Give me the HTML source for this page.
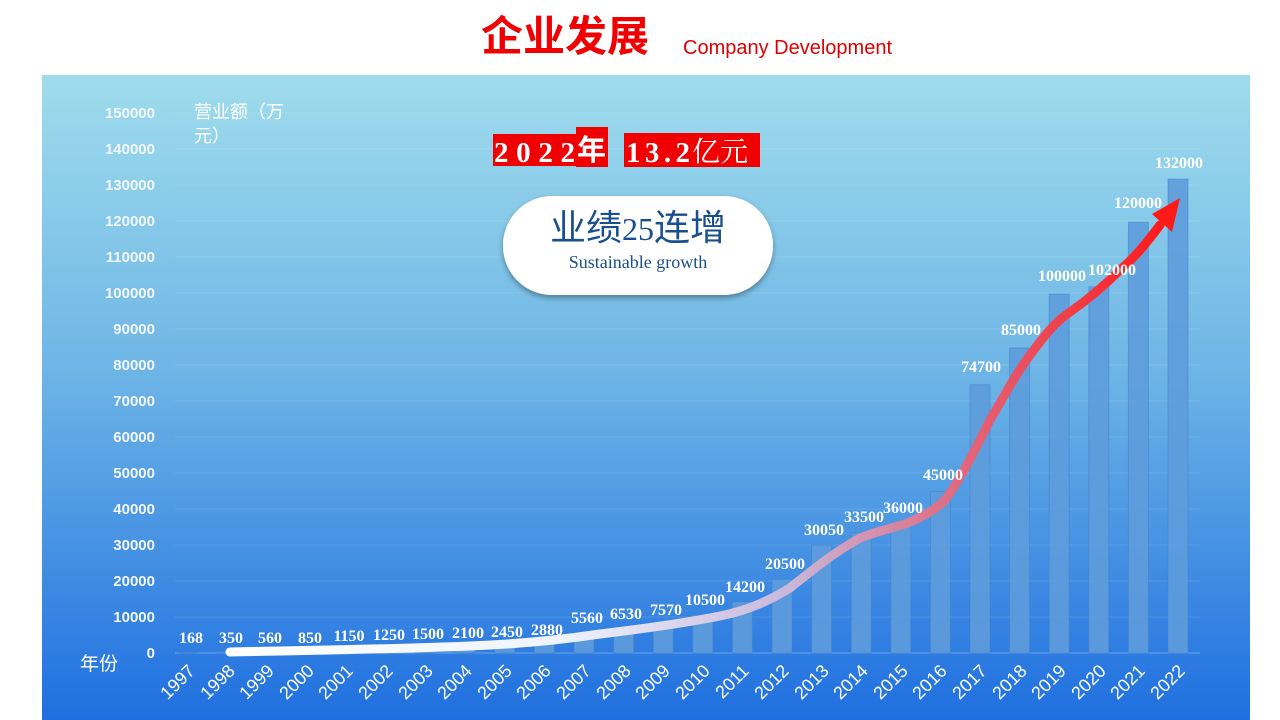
<!DOCTYPE html>
<html><head><meta charset="utf-8"><style>
html,body{margin:0;padding:0;background:#fff;}
body{width:1280px;height:720px;overflow:hidden;position:relative;font-family:"Liberation Sans","Noto Sans CJK SC",sans-serif;}
</style></head><body>
<svg width="1280" height="720" xmlns="http://www.w3.org/2000/svg" style="position:absolute;left:0;top:0">
<defs>
<linearGradient id="bg" x1="0" y1="0" x2="0" y2="1">
<stop offset="0" stop-color="#9fdcec"/><stop offset="0.45" stop-color="#6fb6e6"/><stop offset="1" stop-color="#1f6fe0"/>
</linearGradient>
<linearGradient id="ln" x1="0" y1="0" x2="1" y2="0">
<stop offset="0" stop-color="#ffffff"/><stop offset="0.35" stop-color="#f0f4ff"/><stop offset="0.6" stop-color="#c8b8da"/><stop offset="0.78" stop-color="#e06a80"/><stop offset="1" stop-color="#ff1a1a"/>
</linearGradient>
<filter id="sh" x="-10%" y="-10%" width="120%" height="140%"><feDropShadow dx="0" dy="3" stdDeviation="3" flood-color="#000" flood-opacity="0.35"/></filter>
</defs>
<text x="565" y="51" text-anchor="middle" font-size="42" font-weight="bold" fill="#f00000" font-family="Liberation Sans,Noto Sans CJK SC,sans-serif">企业发展</text>
<text x="683" y="54" font-size="20" fill="#e00000">Company Development</text>
<rect x="42" y="75" width="1208" height="645" fill="url(#bg)"/>
<g stroke="#ffffff" stroke-opacity="0.12" stroke-width="1">
<line x1="175" x2="1200" y1="617" y2="617"/><line x1="175" x2="1200" y1="581" y2="581"/><line x1="175" x2="1200" y1="545" y2="545"/><line x1="175" x2="1200" y1="509" y2="509"/><line x1="175" x2="1200" y1="473" y2="473"/><line x1="175" x2="1200" y1="437" y2="437"/><line x1="175" x2="1200" y1="401" y2="401"/><line x1="175" x2="1200" y1="365" y2="365"/><line x1="175" x2="1200" y1="329" y2="329"/><line x1="175" x2="1200" y1="293" y2="293"/><line x1="175" x2="1200" y1="257" y2="257"/><line x1="175" x2="1200" y1="221" y2="221"/><line x1="175" x2="1200" y1="185" y2="185"/><line x1="175" x2="1200" y1="149" y2="149"/><line x1="175" x2="1200" y1="113" y2="113"/>
</g>
<line x1="175" x2="1200" y1="653" y2="653" stroke="#ffffff" stroke-opacity="0.3"/>
<g font-size="15" font-weight="bold" fill="#f2f6ff" text-anchor="end">
<text x="155" y="658">0</text><text x="155" y="622">10000</text><text x="155" y="586">20000</text><text x="155" y="550">30000</text><text x="155" y="514">40000</text><text x="155" y="478">50000</text><text x="155" y="442">60000</text><text x="155" y="406">70000</text><text x="155" y="370">80000</text><text x="155" y="334">90000</text><text x="155" y="298">100000</text><text x="155" y="262">110000</text><text x="155" y="226">120000</text><text x="155" y="190">130000</text><text x="155" y="154">140000</text><text x="155" y="118">150000</text>
</g>
<text x="194" y="118" font-size="18" fill="#ffffff">营业额（万</text>
<text x="194" y="142" font-size="18" fill="#ffffff">元）</text>
<text x="80" y="670" font-size="19" fill="#ffffff">年份</text>
<g fill="#5e9cdc" fill-opacity="0.9" stroke="#3f7fc8" stroke-opacity="0.5">
<rect x="178" y="652.4" width="20" height="0.6"/><rect x="217.6" y="651.7" width="20" height="1.3"/><rect x="257.2" y="651" width="20" height="2"/><rect x="296.8" y="650" width="20" height="3"/><rect x="336.4" y="648.9" width="20" height="4.1"/><rect x="376" y="648.5" width="20" height="4.5"/><rect x="415.6" y="647.6" width="20" height="5.4"/><rect x="455.2" y="645.5" width="20" height="7.5"/><rect x="494.8" y="644.2" width="20" height="8.8"/><rect x="534.4" y="642.7" width="20" height="10.3"/><rect x="574" y="633" width="20" height="20"/><rect x="613.6" y="629.6" width="20" height="23.4"/><rect x="653.2" y="625.8" width="20" height="27.2"/><rect x="692.8" y="615.3" width="20" height="37.7"/><rect x="732.4" y="602" width="20" height="51"/><rect x="772" y="579.4" width="20" height="73.6"/><rect x="811.6" y="545.1" width="20" height="107.9"/><rect x="851.2" y="532.7" width="20" height="120.3"/><rect x="890.8" y="523.8" width="20" height="129.2"/><rect x="930.4" y="491.5" width="20" height="161.5"/><rect x="970" y="384.8" width="20" height="268.2"/><rect x="1009.6" y="347.9" width="20" height="305.1"/><rect x="1049.2" y="294" width="20" height="359"/><rect x="1088.8" y="286.8" width="20" height="366.2"/><rect x="1128.4" y="222.2" width="20" height="430.8"/><rect x="1168" y="179.1" width="20" height="473.9"/>
</g>
<path d="M230,652 C330,650 400,649 470,646 C520,644 560,640 600,634 C650,628 690,622 720,616 C750,610 770,600 790,588 C810,572 830,555 860,538 C880,530 895,528 910,522 C925,515 935,510 945,500 C960,480 975,450 990,420 C1005,395 1015,375 1030,355 C1045,335 1055,322 1070,312 C1090,298 1105,285 1120,270 C1135,257 1145,245 1160,225" fill="none" stroke="url(#ln)" stroke-width="9" stroke-linecap="round" stroke-linejoin="round"/>
<polygon points="1180,198 1152,214 1172,232" fill="#ff1a1a"/>
<g font-size="16" font-weight="bold" fill="#ffffff" text-anchor="middle" font-family="Liberation Serif,serif">
<text x="191" y="643">168</text><text x="231" y="643">350</text><text x="270" y="643">560</text><text x="310" y="643">850</text><text x="349" y="641">1150</text><text x="389" y="640">1250</text><text x="428" y="639">1500</text><text x="468" y="638">2100</text><text x="507" y="637">2450</text><text x="547" y="635">2880</text><text x="587" y="623">5560</text><text x="626" y="619">6530</text><text x="666" y="615">7570</text><text x="705" y="605">10500</text><text x="745" y="592">14200</text><text x="785" y="569">20500</text><text x="824" y="535">30050</text><text x="864" y="522">33500</text><text x="903" y="513">36000</text><text x="943" y="480">45000</text><text x="981" y="372">74700</text><text x="1021" y="335">85000</text><text x="1062" y="281">100000</text><text x="1112" y="275">102000</text><text x="1138" y="208">120000</text><text x="1179" y="168">132000</text>
</g>
<g font-size="18" fill="#ffffff" text-anchor="end">
<text transform="translate(196,672) rotate(-45)">1997</text><text transform="translate(236,672) rotate(-45)">1998</text><text transform="translate(275,672) rotate(-45)">1999</text><text transform="translate(315,672) rotate(-45)">2000</text><text transform="translate(354,672) rotate(-45)">2001</text><text transform="translate(394,672) rotate(-45)">2002</text><text transform="translate(434,672) rotate(-45)">2003</text><text transform="translate(473,672) rotate(-45)">2004</text><text transform="translate(513,672) rotate(-45)">2005</text><text transform="translate(552,672) rotate(-45)">2006</text><text transform="translate(592,672) rotate(-45)">2007</text><text transform="translate(632,672) rotate(-45)">2008</text><text transform="translate(671,672) rotate(-45)">2009</text><text transform="translate(711,672) rotate(-45)">2010</text><text transform="translate(750,672) rotate(-45)">2011</text><text transform="translate(790,672) rotate(-45)">2012</text><text transform="translate(830,672) rotate(-45)">2013</text><text transform="translate(869,672) rotate(-45)">2014</text><text transform="translate(909,672) rotate(-45)">2015</text><text transform="translate(948,672) rotate(-45)">2016</text><text transform="translate(988,672) rotate(-45)">2017</text><text transform="translate(1028,672) rotate(-45)">2018</text><text transform="translate(1067,672) rotate(-45)">2019</text><text transform="translate(1107,672) rotate(-45)">2020</text><text transform="translate(1146,672) rotate(-45)">2021</text><text transform="translate(1186,672) rotate(-45)">2022</text>
</g>
<rect x="493" y="134" width="83" height="32" fill="#f00000"/>
<rect x="576" y="127" width="32" height="40" fill="#f00000"/>
<rect x="624" y="133" width="136" height="34" fill="#f00000"/>
<text x="494" y="162" font-size="29" font-weight="bold" fill="#fff" font-family="Liberation Serif,serif" textLength="81">2022</text>
<text x="577" y="160" font-size="29" font-weight="bold" fill="#fff" font-family="Noto Sans CJK SC,sans-serif">年</text>
<text x="626" y="162" font-size="29" font-weight="bold" fill="#fff" font-family="Liberation Serif,serif" textLength="64">13.2</text>
<text x="692" y="161" font-size="28" fill="#fff" font-family="Noto Serif CJK SC,serif">亿元</text>
<rect x="503" y="196" width="270" height="99" rx="49" fill="#ffffff" filter="url(#sh)"/>
<text x="638" y="240" text-anchor="middle" font-size="36" fill="#1a4f8f" font-family="Liberation Serif,Noto Sans CJK SC,serif">业绩<tspan font-size="32">25</tspan>连增</text>
<text x="638" y="268" text-anchor="middle" font-size="18" fill="#1a4f8f" font-family="Liberation Serif,serif">Sustainable growth</text>
</svg>
</body></html>
